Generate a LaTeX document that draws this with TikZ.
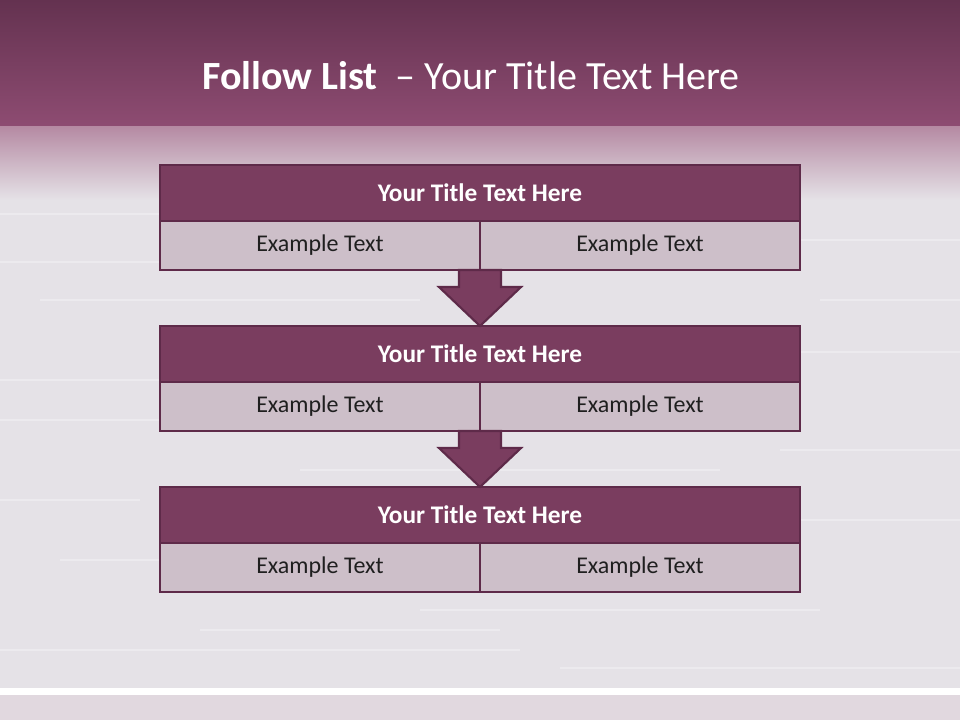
\documentclass[tikz,border=0pt]{standalone}
\usepackage{fontspec}
\setmainfont{Carlito}
\usetikzlibrary{positioning}
\usetikzlibrary{calc}
\definecolor{plumdark}{HTML}{5E2A49}
\definecolor{plum}{HTML}{7A3D5F}
\definecolor{plumlight}{HTML}{CDBFC9}
\definecolor{bandtop}{HTML}{643250}
\definecolor{bandbot}{HTML}{8E4C72}
\definecolor{slide}{HTML}{E5E2E7}

\begin{document}
\begin{tikzpicture}[x=0.75pt,y=-0.75pt,line width=2.1pt,
					font=\fontsize{18}{21}\selectfont]
					\tikzstyle{headbox}=[draw=plumdark,fill=plum,text=white,font=\fontsize{19}{22}\selectfont\bfseries,
					minimum width=480pt,minimum height=42pt,inner sep=0pt,outer sep=0pt]
					\tikzstyle{cellbox}=[draw=plumdark,fill=plumlight,text=black!88,
					minimum width=240pt,minimum height=36.75pt,inner sep=0pt,outer sep=0pt]
					\tikzstyle{flow}=[draw=plumdark,fill=plum,line width=1.6pt,line join=miter]
					
					% slide background
					\useasboundingbox (0,0) rectangle (960,720);
					\shade[top color=bandtop,bottom color=bandbot] (0,0) rectangle (960,127);
					\shade[top color=bandbot!65!white,bottom color=slide] (0,127) rectangle (960,200);
					\fill[slide] (0,200) rectangle (960,688);
					\foreach \x/\y/\l in {0/214/300, 520/240/440, 40/300/380, 600/352/360, 0/420/260,
						300/470/420, 680/520/280, 60/560/360, 420/610/400, 0/650/520, 560/668/400,
						0/262/220, 820/300/140, 0/380/180, 780/450/180, 0/500/140, 200/630/300}
					\draw[white,opacity=0.3,line width=1pt] (\x,\y) -- ++(\l,0);
					\fill[white] (0,688) rectangle (960,695);
					\fill[plumlight!60!white] (0,695) rectangle (960,720);
					
					\node[text=white,font=\fontsize{30}{34}\selectfont] (title) at (471,76)
					{\textbf{Follow List}\ \ – Your Title Text Here};
					
					\node[headbox]                                 (T_1) at (480,193) {Your Title Text Here};
					\node[cellbox,anchor=north east]               (L_1) at (T_1.south) {Example Text};
					\node[cellbox,anchor=north west]               (R_1) at (T_1.south) {Example Text};
					
					\node[headbox,below=42pt of L_1.south east]   (T_2) {Your Title Text Here};
					\node[cellbox,anchor=north east]               (L_2) at (T_2.south) {Example Text};
					\node[cellbox,anchor=north west]               (R_2) at (T_2.south) {Example Text};
					
					\node[headbox,below=42pt of L_2.south east]   (T_3) {Your Title Text Here};
					\node[cellbox,anchor=north east]               (L_3) at (T_3.south) {Example Text};
					\node[cellbox,anchor=north west]               (R_3) at (T_3.south) {Example Text};
					
					% block arrows
					\draw[flow] ($(L_1.south east)+(-21,0)$) -- ++(0,17) -- ++(-20,0) -- (T_2.north)
					-- ++(41,-39) -- ++(-20,0) -- ($(R_1.south west)+(21,0)$) -- cycle;
					\draw[flow] ($(L_2.south east)+(-21,0)$) -- ++(0,17) -- ++(-20,0) -- (T_3.north)
					-- ++(41,-39) -- ++(-20,0) -- ($(R_2.south west)+(21,0)$) -- cycle;
					
					\end{tikzpicture}
\end{document}
